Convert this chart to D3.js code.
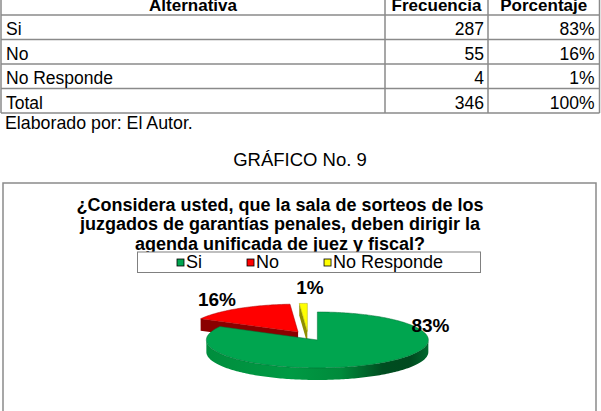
<!DOCTYPE html>
<html>
<head>
<meta charset="utf-8">
<script src="https://cdn.jsdelivr.net/npm/d3@7"></script>
<style>
  body { margin: 0; background: #fff; }
  svg { display: block; font-family: "Liberation Sans", Arial, sans-serif; }
</style>
</head>
<body>
<div id="chart"></div>
<script>
// table + chart data
const alternativas = ["Si", "No", "No Responde"];
const frecuencias = [287, 55, 4];
const porcentajes = ["83%", "16%", "1%"];
const encabezados = ["Alternativa", "Frecuencia", "Porcentaje"];
const tituloLineas = [
  "¿Considera usted, que la sala de sorteos de los",
  "juzgados de garantías penales, deben dirigir la",
  "agenda unificada de juez y fiscal?"
];
const colores = ["#00a54f", "#ff0000", "#ffff00"];
const coloresLado = ["#006a2d", "#8a0000", "#8f8f00"];

const W = 601, H = 411;
const svg = d3.select("#chart").append("svg")
  .attr("width", W).attr("height", H);

// ---------- table ----------
const rowsKeys = ["head"].concat(alternativas, ["Total"]);
const y = d3.scaleBand().domain(rowsKeys).range([-9.5, 113]);
const colEdges = [1, 385, 488, 599.5];
const lineCol = "#8a8a8a";

const table = svg.append("g").attr("class", "tabla");

rowsKeys.forEach(function(k) {
  table.append("line")
    .attr("x1", colEdges[0]).attr("x2", colEdges[3])
    .attr("y1", y(k) + y.bandwidth()).attr("y2", y(k) + y.bandwidth())
    .attr("stroke", lineCol).attr("stroke-width", 1.5);
});
colEdges.forEach(function(cx) {
  table.append("line")
    .attr("x1", cx).attr("x2", cx)
    .attr("y1", y("head")).attr("y2", y("Total") + y.bandwidth())
    .attr("stroke", lineCol).attr("stroke-width", 1.5);
});

// header (cut at the top edge, as in the page scan)
encabezados.forEach(function(h, i) {
  table.append("text")
    .attr("x", (colEdges[i] + colEdges[i + 1]) / 2)
    .attr("y", y("head") + 20)
    .attr("text-anchor", "middle")
    .style("font-size", "17px").style("font-weight", "bold")
    .text(h);
});

const total = d3.sum(frecuencias);
const filas = alternativas.map(function(a, i) { return [a, frecuencias[i], porcentajes[i]]; })
  .concat([["Total", total, "100%"]]);

filas.forEach(function(f) {
  const yy = y(f[0]) + 20;
  table.append("text").attr("x", 6).attr("y", yy)
    .style("font-size", "17.5px").text(f[0]);
  table.append("text").attr("x", colEdges[2] - 4).attr("y", yy)
    .attr("text-anchor", "end").style("font-size", "17.5px").text(f[1]);
  table.append("text").attr("x", colEdges[3] - 5).attr("y", yy)
    .attr("text-anchor", "end").style("font-size", "17.5px").text(f[2]);
});

svg.append("text").attr("x", 5).attr("y", 128.5)
  .style("font-size", "17.8px").text("Elaborado por: El Autor.");

svg.append("text").attr("x", 300).attr("y", 166)
  .attr("text-anchor", "middle")
  .style("font-size", "18.5px").text("GRÁFICO No. 9");

// ---------- chart frame ----------
svg.append("rect")
  .attr("x", 3).attr("y", 183).attr("width", 593).attr("height", 240)
  .attr("fill", "#fff").attr("stroke", "#8a8a8a").attr("stroke-width", 1.5);

// title
const title = svg.append("text")
  .attr("text-anchor", "middle")
  .style("font-size", "18px").style("font-weight", "bold");
tituloLineas.forEach(function(t, i) {
  title.append("tspan").attr("x", 280).attr("y", 210.5 + i * 19.5).text(t);
});

// ---------- 3d pie ----------
const cx = 308, cy = 336, rx = 111, ry = 28, depth = 12, explode = 0.165;

const pie = d3.pie().sort(null).startAngle(0).endAngle(2 * Math.PI);
const arcs = pie(frecuencias);

function rim(a, ox, oy, dy) {
  return [ox + rx * Math.sin(a), oy - ry * Math.cos(a) + (dy || 0)];
}
function arcPts(a0, a1, ox, oy, dy) {
  const n = Math.max(2, Math.ceil((a1 - a0) / 0.02));
  return d3.range(n + 1).map(function(i) { return rim(a0 + (a1 - a0) * i / n, ox, oy, dy); });
}
const line = d3.line();

const defs = svg.append("defs");
const grad = defs.append("linearGradient").attr("id", "ladoVerde")
  .attr("gradientUnits", "userSpaceOnUse")
  .attr("x1", cx - rx).attr("x2", cx + rx + 10).attr("y1", 0).attr("y2", 0);
[[0, "#008c3c"], [0.4, "#009a44"], [0.62, "#008a3b"], [0.8, "#004d20"], [0.92, "#004a1f"], [1, "#006a2e"]]
  .forEach(function(s) { grad.append("stop").attr("offset", s[0]).attr("stop-color", s[1]); });

const slices = arcs.map(function(d, i) {
  const mid = (d.startAngle + d.endAngle) / 2;
  return {
    d: d, i: i,
    ox: cx + explode * rx * Math.sin(mid),
    oy: cy - explode * ry * Math.cos(mid)
  };
}).sort(function(a, b) { return a.oy - b.oy; });

const pieG = svg.append("g").attr("class", "pie");

slices.forEach(function(s) {
  const g = pieG.append("g");
  const a0 = s.d.startAngle, a1 = s.d.endAngle;
  const side = s.i === 0 ? "url(#ladoVerde)" : coloresLado[s.i];

  // radial cut faces, only when turned to the viewer
  if (Math.sin(a0) < -1e-6) {
    const p = rim(a0, s.ox, s.oy);
    g.append("path")
      .attr("d", line([[s.ox, s.oy], p, [p[0], p[1] + depth], [s.ox, s.oy + depth]]) + "Z")
      .attr("fill", coloresLado[s.i]);
  }
  if (Math.sin(a1) > 1e-6) {
    const p = rim(a1, s.ox, s.oy);
    g.append("path")
      .attr("d", line([[s.ox, s.oy], p, [p[0], p[1] + depth], [s.ox, s.oy + depth]]) + "Z")
      .attr("fill", coloresLado[s.i]);
  }
  // outer wall, front half only
  const w0 = Math.max(a0, Math.PI / 2), w1 = Math.min(a1, 3 * Math.PI / 2);
  if (w1 > w0) {
    const pts = arcPts(w0, w1, s.ox, s.oy).concat(arcPts(w0, w1, s.ox, s.oy, depth).reverse());
    g.append("path").attr("d", line(pts) + "Z").attr("fill", side);
  }
  // top face
  const top = [[s.ox, s.oy]].concat(arcPts(a0, a1, s.ox, s.oy));
  g.append("path").attr("d", line(top) + "Z")
    .attr("fill", colores[s.i])
    .attr("stroke", d3.color(colores[s.i]).darker(1.2))
    .attr("stroke-width", 0.5);
});

// labels
const labelAng = [70.5, 327.6, 0.6];
const labelRad = [1.17, 1.53, 1.75];
arcs.forEach(function(d, i) {
  const a = labelAng[i] * Math.PI / 180;
  svg.append("text")
    .attr("x", cx + labelRad[i] * rx * Math.sin(a))
    .attr("y", cy - labelRad[i] * ry * Math.cos(a))
    .attr("text-anchor", "middle").attr("dominant-baseline", "central")
    .style("font-size", "19px").style("font-weight", "bold")
    .text(porcentajes[i]);
});

// ---------- legend ----------
const legG = svg.append("g");
legG.append("rect")
  .attr("x", 137.5).attr("y", 252).attr("width", 343).attr("height", 20.5)
  .attr("fill", "#fff").attr("stroke", "#808080").attr("stroke-width", 1);

let lx = 177;
alternativas.forEach(function(a, i) {
  legG.append("rect")
    .attr("x", lx).attr("y", 259).attr("width", 7).attr("height", 7)
    .attr("fill", colores[i]).attr("stroke", "#000").attr("stroke-width", 0.8);
  const t = legG.append("text").attr("x", lx + 9).attr("y", 268.3)
    .style("font-size", "18px").text(a);
  lx += 9 + t.node().getComputedTextLength() + 45;
});
</script>
</body>
</html>
